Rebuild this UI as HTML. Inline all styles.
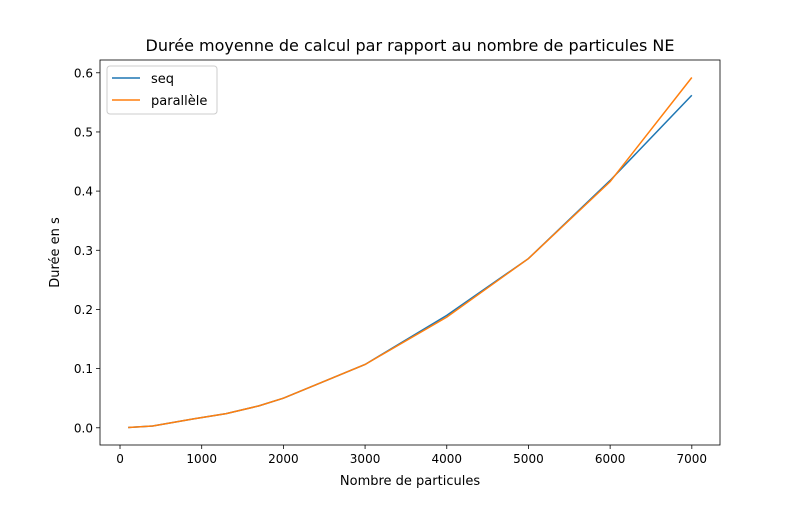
<!DOCTYPE html>
<html><head><meta charset="utf-8"><style>
body{margin:0;background:#fff}
svg{font-family:"DejaVu Sans","Liberation Sans",sans-serif}
</style></head><body>
<svg id="chart" width="800" height="500" xmlns="http://www.w3.org/2000/svg">
<rect width="800" height="500" fill="#fff"/>
<text x="410" y="51" font-size="16" text-anchor="middle">Durée moyenne de calcul par rapport au nombre de particules NE</text>
<g id="axes"></g>
<text x="410" y="485" font-size="13" text-anchor="middle">Nombre de particules</text>
<text transform="translate(59,252.5) rotate(-90)" font-size="13" text-anchor="middle">Durée en s</text>
<g>
<rect x="107" y="66" width="110" height="48" rx="3" fill="#fff" fill-opacity="0.8" stroke="#ccc"/>
<line x1="112" y1="78" x2="140" y2="78" stroke="#1f77b4" stroke-width="1.5"/>
<text x="151" y="83" font-size="13">seq</text>
<line x1="112" y1="100" x2="140" y2="100" stroke="#ff7f0e" stroke-width="1.5"/>
<text x="151" y="105" font-size="13">parallèle</text>
</g>
</svg>
<script>
const xs=[100,400,900,1300,1700,2000,3000,4000,5000,6000,7000];
const seq=[0.0005,0.003,0.015,0.024,0.037,0.05,0.107,0.19,0.286,0.418,0.562];
const par=[0.0005,0.003,0.015,0.024,0.037,0.05,0.107,0.187,0.286,0.416,0.592];
const xTicks=[0,1000,2000,3000,4000,5000,6000,7000];
const yTicks=[0.0,0.1,0.2,0.3,0.4,0.5,0.6];
const L=100,R=720,T=60,B=445;
const xmin=-245,xmax=7345,ymin=-0.0291,ymax=0.6216;
const X=v=>L+(v-xmin)/(xmax-xmin)*(R-L);
const Y=v=>B-(v-ymin)/(ymax-ymin)*(B-T);
const NS="http://www.w3.org/2000/svg";
const g=document.getElementById('axes');
function mk(t,a){const e=document.createElementNS(NS,t);for(const k in a)e.setAttribute(k,a[k]);g.appendChild(e);return e;}
xTicks.forEach(v=>{
 mk('line',{x1:X(v),x2:X(v),y1:B,y2:B+4,stroke:'#000','stroke-width':0.8});
 const t=mk('text',{x:X(v),y:B+18,'font-size':12,'text-anchor':'middle'});t.textContent=v;
 
 
});
yTicks.forEach(v=>{
 mk('line',{x1:L-4,x2:L,y1:Y(v),y2:Y(v),stroke:'#000','stroke-width':0.8});
 const t=mk('text',{x:L-7,y:Y(v)+4.5,'font-size':12,'text-anchor':'end'});t.textContent=v.toFixed(1);
 
 
});
function line(ys,c,n){
 const p=mk('polyline',{points:xs.map((x,i)=>X(x)+','+Y(ys[i])).join(' '),fill:'none',stroke:c,'stroke-width':1.5});
 
 
}
line(seq,'#1f77b4','series-seq');
line(par,'#ff7f0e','series-parallele');
const f=mk('rect',{x:L,y:T,width:R-L,height:B-T,fill:'none',stroke:'#000','stroke-width':0.8});


</script>
</body></html>
